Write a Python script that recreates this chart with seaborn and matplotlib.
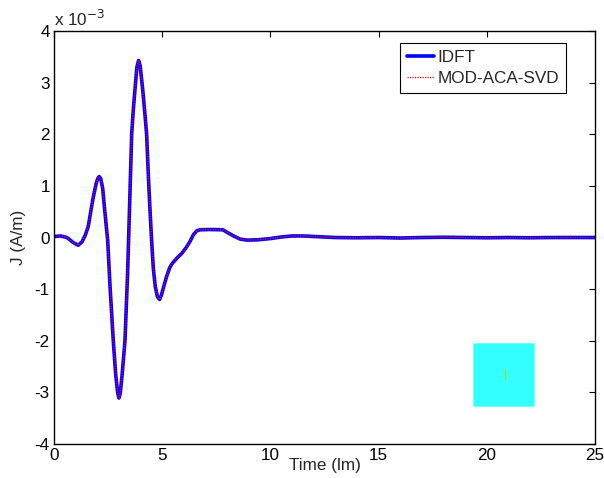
import numpy as np
import pandas as pd
import matplotlib
matplotlib.use("Agg")
import matplotlib.pyplot as plt
import seaborn as sns
from matplotlib.patches import Rectangle

# Time (lm)
time_lm = [0.0, 0.3, 0.6, 0.9, 1.12, 1.3, 1.45, 1.58, 1.8, 1.95, 2.03, 2.09, 2.16, 2.25,
           2.35, 2.42, 2.48, 2.59, 2.74, 2.85, 2.94, 3.0, 3.06, 3.15, 3.28, 3.40, 3.45,
           3.52, 3.59, 3.66, 3.74, 3.83, 3.91, 3.98, 4.10, 4.19, 4.28, 4.36, 4.44, 4.51,
           4.59, 4.68, 4.78, 4.88, 4.96, 5.05, 5.2, 5.35, 5.47, 5.7, 5.9, 6.1, 6.28, 6.45,
           6.6, 6.75, 7.2, 7.8, 8.0, 8.3, 8.6, 8.9, 9.4, 10.0, 10.5, 11.0, 11.5, 12.0,
           12.5, 13.0, 14.0, 15.0, 16.0, 17.0, 18.0, 19.0, 20.0, 21.0, 22.0, 23.0, 24.0, 25.0]

# J (A/m), in units of 1e-3
idft = [0.02, 0.03, 0.0, -0.1, -0.15, -0.08, 0.05, 0.21, 0.75, 1.05, 1.15, 1.18, 1.14, 0.95,
        0.5, 0.2, -0.05, -0.95, -2.0, -2.65, -3.0, -3.11, -3.02, -2.65, -2.0, -0.7, 0.0,
        1.0, 2.0, 2.45, 2.86, 3.3, 3.43, 3.33, 2.86, 2.45, 2.0, 1.2, 0.5, -0.05,
        -0.6, -0.95, -1.15, -1.2, -1.12, -0.98, -0.76, -0.58, -0.5, -0.39, -0.31, -0.2, -0.08, 0.06,
        0.13, 0.15, 0.155, 0.15, 0.1, 0.03, -0.03, -0.05, -0.045, -0.02, 0.01, 0.03, 0.03, 0.02,
        0.01, 0.0, -0.005, 0.0, -0.01, 0.0, 0.005, 0.0, -0.005, 0.0, -0.005, 0.0, 0.0, 0.0]
mod_aca_svd = list(idft)

series_names = ["IDFT", "MOD-ACA-SVD"]
xticks = [0, 5, 10, 15, 20, 25]
yticks = [-4, -3, -2, -1, 0, 1, 2, 3, 4]

df_a = pd.DataFrame({"t": time_lm, "J": idft})
df_b = pd.DataFrame({"t": time_lm, "J": mod_aca_svd})

sns.set_style("white")
plt.rcParams["font.family"] = ["Liberation Sans", "DejaVu Sans"]
plt.rcParams["axes.unicode_minus"] = False

FS = 12.3

fig = plt.figure(figsize=(6.04, 4.78), dpi=100)
ax = fig.add_axes([0.0894, 0.0711, 0.8957, 0.864])

sns.lineplot(data=df_a, x="t", y="J", ax=ax, color="#0000ff", linewidth=2.6,
             label=series_names[0], sort=False)
sns.lineplot(data=df_b, x="t", y="J", ax=ax, color="#ff0000", linewidth=0.9,
             linestyle=(0, (1, 1)), label=series_names[1], sort=False)

# cyan artefact square
ax.add_patch(Rectangle((19.35, -3.27), 2.85, 1.23, facecolor="#33ffff",
                       edgecolor="#66ffff", linewidth=0.5, zorder=3))
ax.plot([20.85, 20.85], [-2.55, -2.75], color="#99dd33", linewidth=1, zorder=4)

ax.set_xlim(0, 25)
ax.set_ylim(-4, 4)
ax.set_xticks(xticks)
ax.set_yticks(yticks)
ax.tick_params(direction="in", length=4, width=0.8, top=True, right=True,
               labelsize=FS, colors="black", pad=3)
for sp in ax.spines.values():
    sp.set_color("black")
    sp.set_linewidth(1.0)
    sp.set_visible(True)

ax.set_xlabel("Time (lm)", fontsize=FS, labelpad=-4)
ax.set_ylabel("J (A/m)", fontsize=FS, labelpad=6)
ax.text(0.0, 1.004, "x 10$^{-3}$", transform=ax.transAxes, fontsize=FS,
        ha="left", va="bottom")

leg = ax.legend(loc="upper right", bbox_to_anchor=(0.946, 0.971), borderaxespad=0,
                fancybox=False, edgecolor="black", fontsize=FS, handlelength=1.6,
                handletextpad=0.2, borderpad=0.4, labelspacing=0.35, framealpha=1)
leg.get_frame().set_linewidth(0.8)

fig.savefig("out.png", dpi=100)
